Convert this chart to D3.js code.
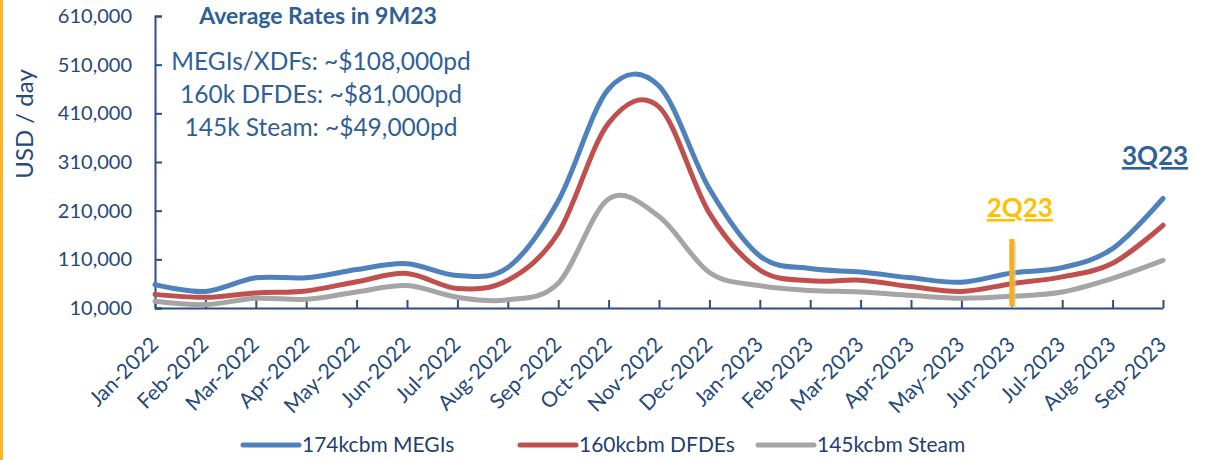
<!DOCTYPE html>
<html>
<head>
<meta charset="utf-8">
<script src="https://cdn.jsdelivr.net/npm/d3@7"></script>
<style>
  body { margin: 0; background: #fff; }
  svg { display: block; font-family: Lato, "Open Sans", sans-serif; }
</style>
</head>
<body>
<div id="chart"></div>
<script>
// month categories on the x axis
var months = ['Jan-2022', 'Feb-2022', 'Mar-2022', 'Apr-2022', 'May-2022', 'Jun-2022',
  'Jul-2022', 'Aug-2022', 'Sep-2022', 'Oct-2022', 'Nov-2022', 'Dec-2022',
  'Jan-2023', 'Feb-2023', 'Mar-2023', 'Apr-2023', 'May-2023', 'Jun-2023',
  'Jul-2023', 'Aug-2023', 'Sep-2023'];

// USD / day
var megis = [58000, 44000, 72000, 72000, 89000, 101000, 77000, 93000, 230000, 460000, 466000,
  255000, 117000, 91000, 84000, 72000, 63000, 82000, 93000, 132000, 235000];
var dfdes = [38000, 32000, 41000, 45000, 64000, 81000, 50000, 67000, 164000, 390000, 423000,
  205000, 88000, 66000, 67000, 54000, 44000, 60000, 74000, 102000, 180000];
var steam = [24000, 17000, 30000, 28000, 43000, 56000, 32000, 27000, 61000, 234000, 198000,
  83000, 56000, 46000, 43000, 36000, 30000, 34000, 43000, 71000, 108000];

var yTicks = [10000, 110000, 210000, 310000, 410000, 510000, 610000];

var seriesNames = ['174kcbm MEGIs', '160kcbm DFDEs', '145kcbm Steam'];
var seriesColors = ['#4F81BD', '#C0504D', '#A5A5A5'];

var notes = ['MEGIs/XDFs: ~$108,000pd', '160k DFDEs: ~$81,000pd', '145k Steam: ~$49,000pd'];

var svgWidth = 1221;
var svgHeight = 460;
var axisColor = '#2A4F80';
var textColor = '#24497A';

var svg = d3.select('#chart').append('svg')
  .attr('width', svgWidth)
  .attr('height', svgHeight);

// yellow page border on the left
svg.append('rect')
  .attr('x', 0).attr('y', 0)
  .attr('width', 3).attr('height', svgHeight)
  .attr('fill', '#F7B52C');

var x = d3.scalePoint().domain(months).range([155, 1163]);
var y = d3.scaleLinear().domain([10000, 610000]).range([308, 16]);

// y axis
var yAxis = svg.append('g')
  .attr('transform', 'translate(155,0)')
  .call(d3.axisLeft(y).tickValues(yTicks).tickSize(-7).tickPadding(23)
    .tickFormat(d3.format(',')));
yAxis.select('.domain').attr('stroke', axisColor).attr('stroke-width', 2);
yAxis.selectAll('.tick line').attr('stroke', axisColor).attr('stroke-width', 2);
yAxis.selectAll('text')
  .attr('fill', textColor)
  .style('font-size', '20px')
  .style('font-family', 'Lato, sans-serif');

// x axis
var xAxis = svg.append('g')
  .attr('transform', 'translate(0,308)')
  .call(d3.axisBottom(x).tickSize(-8).tickSizeOuter(0));
xAxis.select('.domain').attr('stroke', axisColor).attr('stroke-width', 2);
xAxis.selectAll('.tick line').attr('stroke', axisColor).attr('stroke-width', 2);
xAxis.selectAll('text')
  .attr('fill', textColor)
  .attr('text-anchor', 'end')
  .attr('x', 0).attr('y', 0).attr('dy', 0)
  .attr('transform', 'translate(4,38) rotate(-45)')
  .style('font-size', '21px')
  .style('font-family', 'Lato, sans-serif');

// y axis title
svg.append('text')
  .attr('transform', 'translate(33,124) rotate(-90)')
  .attr('text-anchor', 'middle')
  .attr('fill', textColor)
  .style('font-size', '24px')
  .text('USD / day');

// smoothed lines
var line = d3.line()
  .x(function(d, i) { return x(months[i]); })
  .y(function(d) { return y(d); })
  .curve(d3.curveCardinal.tension(0));

var allSeries = [steam, dfdes, megis];
var allColors = [seriesColors[2], seriesColors[1], seriesColors[0]];
svg.selectAll('.series')
  .data(allSeries)
  .enter()
  .append('path')
  .classed('series', true)
  .attr('d', line)
  .attr('fill', 'none')
  .attr('stroke', function(d, i) { return allColors[i]; })
  .attr('stroke-width', 5)
  .attr('stroke-linecap', 'round')
  .attr('stroke-linejoin', 'round');

// annotation box top left
svg.append('text')
  .attr('x', 318).attr('y', 24)
  .attr('text-anchor', 'middle')
  .attr('fill', '#2F5F97')
  .style('font-size', '23px')
  .style('font-weight', 'bold')
  .text('Average Rates in 9M23');

svg.selectAll('.note')
  .data(notes)
  .enter()
  .append('text')
  .classed('note', true)
  .attr('x', 321)
  .attr('y', function(d, i) { return 70 + i * 33; })
  .attr('text-anchor', 'middle')
  .attr('fill', '#2F5F97')
  .style('font-size', '24.5px')
  .text(function(d) { return d; });

// 2Q23 marker
svg.append('line')
  .attr('x1', x('Jun-2023') + 2).attr('x2', x('Jun-2023') + 2)
  .attr('y1', 241).attr('y2', 308)
  .attr('stroke', '#cccccc').attr('stroke-width', 5).attr('opacity', 0.6);
svg.append('line')
  .attr('x1', x('Jun-2023')).attr('x2', x('Jun-2023'))
  .attr('y1', 239).attr('y2', 306)
  .attr('stroke', '#F5B021').attr('stroke-width', 5);

svg.append('text')
  .attr('x', x('Jun-2023') + 8).attr('y', 217)
  .attr('text-anchor', 'middle')
  .attr('fill', '#FFC000')
  .style('font-size', '26px')
  .style('font-weight', 'bold')
  .style('text-decoration', 'underline')
  .text('2Q23');

svg.append('text')
  .attr('x', 1155).attr('y', 165)
  .attr('text-anchor', 'middle')
  .attr('fill', '#2F5F97')
  .style('font-size', '26px')
  .style('font-weight', 'bold')
  .style('text-decoration', 'underline')
  .text('3Q23');

// legend
var legendX = [243, 520, 758];
var legend = svg.selectAll('.legend')
  .data(seriesNames)
  .enter()
  .append('g')
  .classed('legend', true)
  .attr('transform', function(d, i) { return 'translate(' + legendX[i] + ',445)'; });

legend.append('line')
  .attr('x1', 0).attr('x2', 56)
  .attr('y1', 0).attr('y2', 0)
  .attr('stroke', function(d, i) { return seriesColors[i]; })
  .attr('stroke-width', 5)
  .attr('stroke-linecap', 'round');

legend.append('text')
  .attr('x', 59).attr('y', 0)
  .attr('dy', '0.35em')
  .attr('fill', '#1F3F6F')
  .style('font-size', '21px')
  .text(function(d) { return d; });
</script>
</body>
</html>
